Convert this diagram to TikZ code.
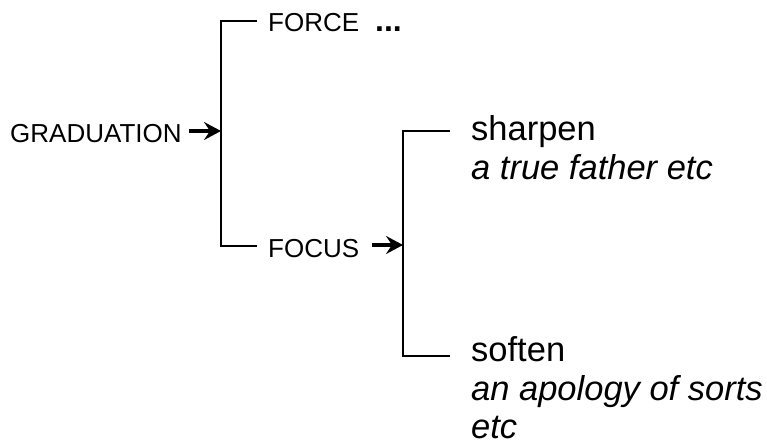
\documentclass[tikz,border=0pt]{standalone}
\usepackage{fontspec}
\setmainfont{Liberation Sans}
\usetikzlibrary{arrows.meta}
\begin{document}
\begin{tikzpicture}[x=1pt,y=-1pt,
  lab/.style={inner sep=0pt, anchor=base west, font=\fontsize{26}{30}\selectfont},
  big/.style={inner sep=0pt, anchor=base west, font=\fontsize{34.5}{39}\selectfont},
  ex/.style={big, font=\fontsize{34.5}{39}\selectfont\itshape},
  brk/.style={line width=1.4pt, line cap=rect},
  arr/.style={line width=3.4pt, -{Stealth[length=17pt,width=18pt,inset=6pt]}}]
\useasboundingbox (0,0) rectangle (767,444);
% left level
\node[lab] (grad) at (10,142) {GRADUATION};
\node[lab] (force) at (268,32) {FORCE\hspace{16pt}{\fontsize{32}{30}\selectfont\bfseries ...}};
\node[lab] (focus) at (268,257) {FOCUS};
\coordinate (b1) at (221,131);
\coordinate (b1t) at (221,21);
\coordinate (b1b) at (221,246);
\coordinate (b1te) at (256,21);
\coordinate (b1be) at (256,246);
\draw[brk] (b1te) -- (b1t) -- (b1b) -- (b1be);
\draw[arr] ([xshift=7pt]grad.east |- b1) -- (b1);
% right level
\node[big] (sharpen) at (471,140) {sharpen};
\node[ex] (sharpenex) at (471,179) {a true father etc};
\node[big] (soften) at (471,361) {soften};
\node[ex] (softenex) at (471,400) {an apology of sorts};
\node[ex] (softenex2) at (471,438) {etc};
\coordinate (b2) at (403,245);
\coordinate (b2t) at (403,131);
\coordinate (b2b) at (403,356);
\coordinate (b2te) at (449,131);
\coordinate (b2be) at (449,356);
\draw[brk] (b2te) -- (b2t) -- (b2b) -- (b2be);
\draw[arr] ([xshift=13pt]focus.east |- b2) -- (b2);
\end{tikzpicture}
\end{document}
